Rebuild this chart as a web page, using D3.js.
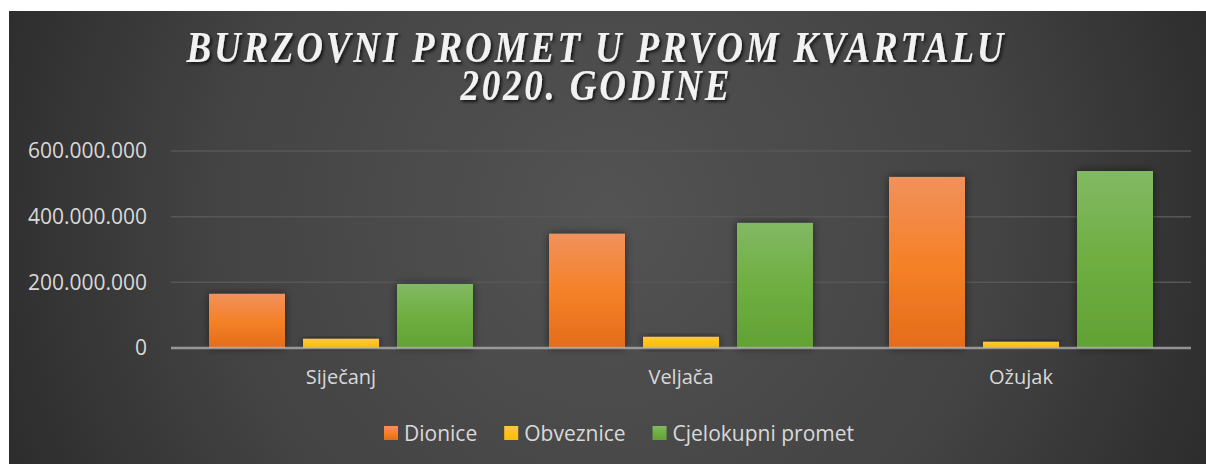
<!DOCTYPE html>
<html>
<head>
<meta charset="utf-8">
<script src="https://cdn.jsdelivr.net/npm/d3@7"></script>
<style>
  html, body { margin: 0; padding: 0; background: #fff; }
  svg { display: block; }
</style>
</head>
<body>
<script>
// data
var months = ["Siječanj", "Veljača", "Ožujak"];
var seriesNames = ["Dionice", "Obveznice", "Cjelokupni promet"];
var dionice = [165000000, 348000000, 521000000];
var obveznice = [28000000, 34000000, 19000000];
var cjelokupni = [195000000, 381000000, 539000000];
var yTicks = [0, 200000000, 400000000, 600000000];
var titleLines = ["BURZOVNI PROMET U PRVOM KVARTALU", "2020. GODINE"];

var colors = [
  ["#f1915c", "#f58128", "#e46c1a"],
  ["#ffca38", "#ffc21a", "#fbbd05"],
  ["#82b964", "#6fae41", "#62a134"]
];

var W = 1206, H = 464;
var svg = d3.select("body").append("svg")
  .attr("width", W)
  .attr("height", H);

var defs = svg.append("defs");

var bg = defs.append("radialGradient")
  .attr("id", "bg")
  .attr("cx", "50%").attr("cy", "45%").attr("r", "60%")
  .attr("gradientTransform", "translate(0.5,0.45) scale(1,2.6) translate(-0.5,-0.45)");
bg.append("stop").attr("offset", "0%").attr("stop-color", "#535353");
bg.append("stop").attr("offset", "55%").attr("stop-color", "#434343");
bg.append("stop").attr("offset", "100%").attr("stop-color", "#262626");

colors.forEach(function(c, i) {
  var g = defs.append("linearGradient")
    .attr("id", "bar" + i)
    .attr("x1", 0).attr("y1", 0).attr("x2", 0).attr("y2", 1);
  g.append("stop").attr("offset", "0%").attr("stop-color", c[0]);
  g.append("stop").attr("offset", "50%").attr("stop-color", c[1]);
  g.append("stop").attr("offset", "100%").attr("stop-color", c[2]);
});

var shadow = defs.append("filter").attr("id", "shadow")
  .attr("x", "-30%").attr("y", "-30%").attr("width", "160%").attr("height", "160%");
shadow.append("feDropShadow")
  .attr("dx", 0).attr("dy", 0)
  .attr("stdDeviation", 4)
  .attr("flood-color", "#000")
  .attr("flood-opacity", 0.55);

var tshadow = defs.append("filter").attr("id", "tshadow")
  .attr("x", "-10%").attr("y", "-30%").attr("width", "120%").attr("height", "160%");
tshadow.append("feDropShadow")
  .attr("dx", 2).attr("dy", 2)
  .attr("stdDeviation", 1.5)
  .attr("flood-color", "#000")
  .attr("flood-opacity", 0.7);

// panel
svg.append("rect")
  .attr("x", 9).attr("y", 11)
  .attr("width", W - 9).attr("height", H - 11)
  .attr("fill", "url(#bg)");

// title (tall glyphs: stretched vertically)
var titleWidths = [817, 269];
var titleBase = [62, 100];
var title = svg.append("g").attr("filter", "url(#tshadow)");
title.selectAll("text")
  .data(titleLines)
  .enter()
  .append("text")
  .attr("transform", function(d, i) { return "translate(595," + titleBase[i] + ") scale(1,1.2)"; })
  .attr("text-anchor", "middle")
  .attr("font-family", "Liberation Serif, serif")
  .attr("font-weight", "bold")
  .attr("font-style", "italic")
  .attr("font-size", 37)
  .attr("textLength", function(d, i) { return titleWidths[i]; })
  .attr("lengthAdjust", "spacing")
  .attr("fill", "#f2f2f2")
  .text(function(d) { return d; });

// scales
var x0 = d3.scaleBand()
  .domain(months)
  .range([171, 1191]);

var x1 = d3.scaleBand()
  .domain(seriesNames)
  .range([0, x0.bandwidth()])
  .paddingInner(18 / 94)
  .paddingOuter(38 / 94);

var y = d3.scaleLinear()
  .domain([0, 600000000])
  .range([348, 151]);

var loc = d3.formatLocale({ decimal: ",", thousands: ".", grouping: [3], currency: ["", ""] });
var fmt = loc.format(",.0f");

// gridlines
svg.append("g")
  .selectAll("line")
  .data(yTicks.slice(1))
  .enter()
  .append("line")
  .attr("x1", 171).attr("x2", 1191)
  .attr("y1", function(d) { return y(d); })
  .attr("y2", function(d) { return y(d); })
  .attr("stroke", "#575757")
  .attr("stroke-width", 1.5);

// y axis labels
var yAxis = svg.append("g")
  .attr("transform", "translate(155,0)")
  .call(d3.axisLeft(y).tickValues(yTicks).tickFormat(fmt).tickSize(0).tickPadding(8));
yAxis.select(".domain").remove();
yAxis.selectAll("text")
  .attr("font-family", "Open Sans, sans-serif")
  .attr("font-size", 21)
  .attr("fill", "#d9d9d9");

// bars
var rows = months.map(function(m, i) {
  return { month: m, values: [dionice[i], obveznice[i], cjelokupni[i]] };
});

var groups = svg.append("g")
  .selectAll("g")
  .data(rows)
  .enter()
  .append("g")
  .attr("transform", function(d) { return "translate(" + x0(d.month) + ",0)"; });

groups.selectAll("rect")
  .data(function(d) {
    return d.values.map(function(v, i) { return { key: seriesNames[i], value: v, i: i }; });
  })
  .enter()
  .append("rect")
  .attr("x", function(d) { return x1(d.key); })
  .attr("width", x1.bandwidth())
  .attr("y", function(d) { return y(d.value); })
  .attr("height", function(d) { return y(0) - y(d.value); })
  .attr("fill", function(d) { return "url(#bar" + d.i + ")"; })
  .attr("filter", "url(#shadow)");

// x axis line
svg.append("line")
  .attr("x1", 171).attr("x2", 1191)
  .attr("y1", y(0)).attr("y2", y(0))
  .attr("stroke", "#b4b4b4")
  .attr("stroke-opacity", 0.75)
  .attr("stroke-width", 2.5);

// x axis labels
var xAxis = svg.append("g")
  .attr("transform", "translate(0," + y(0) + ")")
  .call(d3.axisBottom(x0).tickSize(0).tickPadding(22));
xAxis.select(".domain").remove();
xAxis.selectAll("text")
  .attr("font-family", "Open Sans, sans-serif")
  .attr("font-size", 20)
  .attr("fill", "#d9d9d9");

// legend
var legend = svg.append("g").attr("transform", "translate(384,433)");
var lx = 0;
seriesNames.forEach(function(name, i) {
  var item = legend.append("g").attr("transform", "translate(" + lx + ",0)");
  item.append("rect")
    .attr("x", 0).attr("y", -7)
    .attr("width", 14).attr("height", 14)
    .attr("fill", "url(#bar" + i + ")");
  var t = item.append("text")
    .attr("x", 20).attr("y", 7.5)
    .attr("font-family", "Open Sans, sans-serif")
    .attr("font-size", 21)
    .attr("fill", "#d9d9d9")
    .text(name);
  lx += 20 + t.node().getComputedTextLength() + 27;
});
</script>
</body>
</html>
